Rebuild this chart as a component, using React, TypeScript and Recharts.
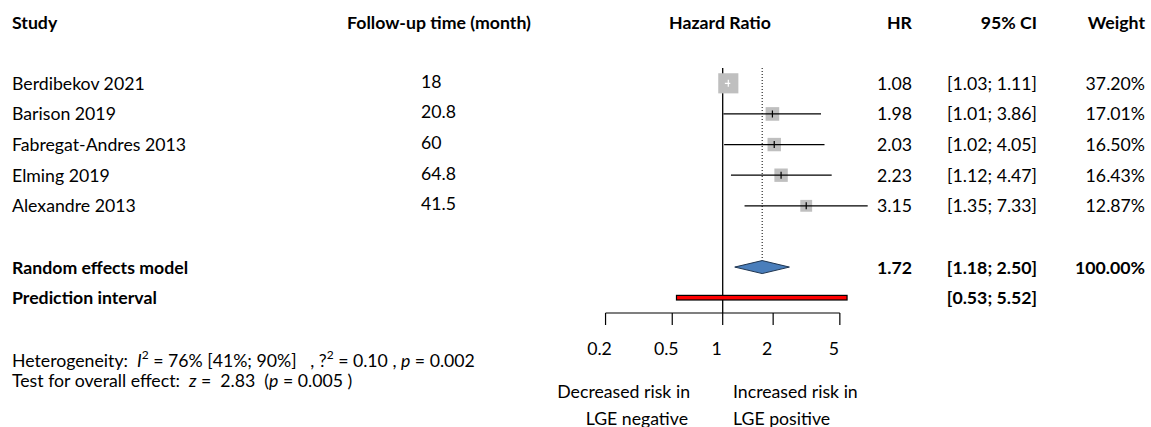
import React from 'react';
import { ComposedChart, XAxis, YAxis, Scatter, ReferenceLine } from 'recharts';

// study rows
const studies = ['Berdibekov 2021', 'Barison 2019', 'Fabregat-Andres 2013', 'Elming 2019', 'Alexandre 2013'];
const followUp = ['18', '20.8', '60', '64.8', '41.5'];
const hazardRatios = [1.08, 1.98, 2.03, 2.23, 3.15];
const ciLow = [1.03, 1.01, 1.02, 1.12, 1.35];
const ciHigh = [1.11, 3.86, 4.05, 4.47, 7.33];
const weights = [37.2, 17.01, 16.5, 16.43, 12.87];

// summary rows
const randomEffect = [1.18, 1.72, 2.5]; // lower, estimate, upper
const randomWeight = 100;
const predictionInterval = [0.53, 5.52];
const xTicks = [0.2, 0.5, 1, 2, 5];

const W = 1151;
const H = 427;
const FONT = "Lato, 'Open Sans', sans-serif";
const FS = 17.7;

const PLOT_LEFT = 555.1;
const PLOT_RIGHT = 890.3;
const PLOT_TOP = 68;
const PLOT_BOTTOM = 313;
const ROW_PX = (PLOT_BOTTOM - PLOT_TOP) / 8;
const PX_PER_DECADE = (PLOT_RIGHT - PLOT_LEFT) / 2;
const POOLED_ROW = 6;
const PRED_ROW = 7;
const SQUARE_K = 3.3;
const DIAMOND_H = 6.5;

const rowY = (r: number) => PLOT_TOP + (r + 0.5) * ROW_PX;
const f2 = (v: number) => v.toFixed(2);
const ciText = (lo: number, hi: number) => `[${f2(lo)}; ${f2(hi)}]`;

const ciInside = studies.map(
  (_, i) => PX_PER_DECADE * Math.log10(ciHigh[i] / ciLow[i]) < SQUARE_K * Math.sqrt(weights[i])
);

const squareData = studies.map((_, i) => ({ x: hazardRatios[i], y: i, weight: weights[i], inside: ciInside[i] }));
const ciData = studies.flatMap((_, i) => [
  { x: ciLow[i], y: i },
  { x: ciHigh[i], y: i },
]);
const diamondData = randomEffect.map((x) => ({ x, y: POOLED_ROW }));
const predData = predictionInterval.map((x) => ({ x, y: PRED_ROW }));

const Empty = () => <g />;

const SquareMark = (props: any) => {
  const { cx, cy, payload } = props;
  const side = SQUARE_K * Math.sqrt(payload.weight);
  const c = payload.inside ? '#fff' : '#000';
  return (
    <g>
      <rect x={cx - side / 2} y={cy - side / 2} width={side} height={side} fill="#BFBFBF" />
      <line x1={cx} x2={cx} y1={cy - 3.5} y2={cy + 3.5} stroke={c} strokeWidth={1.2} />
    </g>
  );
};

const CiLines = (props: any) => {
  const pts = props.points || [];
  const segs = [];
  for (let i = 0; i + 1 < pts.length; i += 2) {
    segs.push(
      <line
        key={i}
        x1={pts[i].x}
        y1={pts[i].y}
        x2={pts[i + 1].x}
        y2={pts[i + 1].y}
        stroke={ciInside[i / 2] ? '#fff' : '#000'}
        strokeWidth={1.3}
      />
    );
  }
  return <g>{segs}</g>;
};

const DiamondShape = (props: any) => {
  const [l, m, r] = props.points;
  const pts = `${l.x},${m.y} ${m.x},${m.y - DIAMOND_H} ${r.x},${m.y} ${m.x},${m.y + DIAMOND_H}`;
  return <polygon points={pts} fill="#4A7EBB" stroke="#1F3550" strokeWidth={1} />;
};

const PredBar = (props: any) => {
  const [a, b] = props.points;
  return <rect x={a.x} y={a.y - 2.3} width={b.x - a.x} height={4.6} fill="#FF0000" stroke="#000" strokeWidth={1.2} />;
};

const AxisTick = (props: any) => (
  <text x={props.x - 6} y={props.y} dy={12.6} textAnchor="middle" fontSize={FS} fontFamily={FONT} fill="#000">
    {props.payload.value}
  </text>
);

export default function App() {
  const base = 6.5;
  return (
    <div style={{ position: 'absolute', left: 0, top: 0, width: W, height: H, background: '#fff' }}>
      <ComposedChart
        width={W}
        height={H}
        margin={{ top: PLOT_TOP, right: W - PLOT_RIGHT, bottom: H - PLOT_BOTTOM - 40, left: PLOT_LEFT }}
      >
        <XAxis
          dataKey="x"
          type="number"
          scale="log"
          domain={[0.1, 10]}
          allowDataOverflow
          ticks={xTicks}
          interval={0}
          axisLine={false}
          tickLine={{ stroke: '#000', strokeWidth: 1.2 }}
          tickSize={12}
          tickMargin={17.4}
          height={40}
          tick={<AxisTick />}
        />
        <YAxis dataKey="y" type="number" domain={[-0.5, 7.5]} reversed hide width={0} />
        <ReferenceLine x={1} stroke="#000" strokeWidth={1.3} />
        <ReferenceLine
          segment={[
            { x: xTicks[0], y: 7.5 },
            { x: xTicks[xTicks.length - 1], y: 7.5 },
          ]}
          stroke="#000"
          strokeWidth={1.2}
        />
        <ReferenceLine
          segment={[
            { x: randomEffect[1], y: -0.5 },
            { x: randomEffect[1], y: POOLED_ROW - DIAMOND_H / ROW_PX },
          ]}
          stroke="#000"
          strokeWidth={1}
          strokeDasharray="1 2"
        />
        <Scatter data={squareData} shape={SquareMark} isAnimationActive={false} />
        <Scatter data={ciData} shape={Empty} line={CiLines} isAnimationActive={false} />
        <Scatter data={diamondData} shape={Empty} line={DiamondShape} isAnimationActive={false} />
        <Scatter data={predData} shape={Empty} line={PredBar} isAnimationActive={false} />
      </ComposedChart>

      <svg
        width={W}
        height={H}
        style={{ position: 'absolute', left: 0, top: 0, pointerEvents: 'none' }}
        fontFamily={FONT}
        fontSize={FS}
        fill="#000"
      >
        <g fontWeight="bold">
          <text x={12} y={28.5}>Study</text>
          <text x={347} y={28.5}>Follow-up time (month)</text>
          <text x={720} y={28.5} textAnchor="middle">Hazard Ratio</text>
          <text x={912} y={28.5} textAnchor="end">HR</text>
          <text x={1037} y={28.5} textAnchor="end">95% CI</text>
          <text x={1145} y={28.5} textAnchor="end">Weight</text>
        </g>

        {studies.map((s, i) => (
          <g key={s}>
            <text x={12} y={rowY(i) + base}>{s}</text>
            <text x={421} y={rowY(i) + base - 2}>{followUp[i]}</text>
            <text x={912} y={rowY(i) + base} textAnchor="end">{f2(hazardRatios[i])}</text>
            <text x={1037} y={rowY(i) + base} textAnchor="end">{ciText(ciLow[i], ciHigh[i])}</text>
            <text x={1145} y={rowY(i) + base} textAnchor="end">{`${f2(weights[i])}%`}</text>
          </g>
        ))}

        <g fontWeight="bold">
          <text x={12} y={rowY(POOLED_ROW) + base}>Random effects model</text>
          <text x={912} y={rowY(POOLED_ROW) + base} textAnchor="end">{f2(randomEffect[1])}</text>
          <text x={1037} y={rowY(POOLED_ROW) + base} textAnchor="end">{ciText(randomEffect[0], randomEffect[2])}</text>
          <text x={1145} y={rowY(POOLED_ROW) + base} textAnchor="end">{`${f2(randomWeight)}%`}</text>
          <text x={12} y={rowY(PRED_ROW) + base}>Prediction interval</text>
          <text x={1037} y={rowY(PRED_ROW) + base} textAnchor="end">{ciText(predictionInterval[0], predictionInterval[1])}</text>
        </g>

        <text x={12} y={367} style={{ whiteSpace: 'pre' }}>
          {'Heterogeneity:  '}
          <tspan fontStyle="italic">I</tspan>
          <tspan dy={-8} fontSize={12}>2</tspan>
          <tspan dy={8}>{' = 76% [41%; 90%]   , ?'}</tspan>
          <tspan dy={-8} fontSize={12}>2</tspan>
          <tspan dy={8}>{' = 0.10 , '}</tspan>
          <tspan fontStyle="italic">p</tspan>
          <tspan>{' = 0.002'}</tspan>
        </text>
        <text x={12} y={387} style={{ whiteSpace: 'pre' }}>
          {'Test for overall effect:  '}
          <tspan fontStyle="italic">z</tspan>
          <tspan>{' =  2.83  ('}</tspan>
          <tspan fontStyle="italic">p</tspan>
          <tspan>{' = 0.005 )'}</tspan>
        </text>

        <text x={690} y={398} textAnchor="end">Decreased risk in</text>
        <text x={688} y={425} textAnchor="end">LGE negative</text>
        <text x={733} y={398}>Increased risk in</text>
        <text x={733} y={425}>LGE positive</text>
      </svg>
    </div>
  );
}
